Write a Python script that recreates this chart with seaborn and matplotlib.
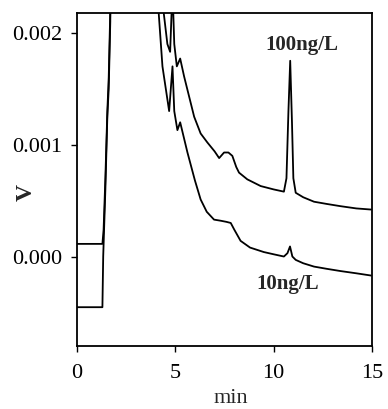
import numpy as np
import pandas as pd
import matplotlib
matplotlib.use("Agg")
import matplotlib.pyplot as plt
import matplotlib.ticker as mticker
import seaborn as sns

# 100 ng/L trace (time in min, signal in V)
t_100 = [0, 1.30, 1.36, 1.45, 1.55, 1.62, 1.70, 1.75, 4.0, 4.40, 4.60, 4.74, 4.86,
         4.95, 5.08, 5.25, 5.45, 5.62, 5.96, 6.29, 6.63, 7.0, 7.23, 7.48, 7.7, 7.9,
         8.1, 8.24, 8.66, 9.34, 10.0, 10.52, 10.65, 10.75, 10.84, 10.93, 11.0,
         11.12, 11.5, 12.05, 12.7, 13.4, 14.2, 14.95]
v_100 = [0.000113, 0.000113, 0.00024, 0.0007, 0.0013, 0.0016, 0.0022, 0.004, 0.004,
         0.0022, 0.0019, 0.00183, 0.0024, 0.0019, 0.0017, 0.00177, 0.00161, 0.00149,
         0.00125, 0.0011, 0.00102, 0.00094, 0.00088, 0.00093, 0.00093, 0.0009,
         0.0008, 0.00075, 0.00069, 0.00063, 0.0006, 0.00058, 0.0007, 0.0013,
         0.00175, 0.0012, 0.0007, 0.00057, 0.00053, 0.00049, 0.00047, 0.00045,
         0.00043, 0.00042]

# 10 ng/L trace
t_10 = [0, 1.30, 1.34, 1.45, 1.55, 1.62, 1.70, 1.75, 3.9, 4.15, 4.35, 4.69, 4.86,
        4.95, 5.11, 5.25, 5.62, 6.0, 6.29, 6.6, 6.97, 7.31, 7.6, 7.82, 8.0, 8.32,
        8.8, 9.5, 10.0, 10.52, 10.7, 10.83, 10.95, 11.12, 11.5, 12.05, 12.7, 13.4,
        14.2, 14.95]
v_10 = [-0.000453, -0.000453, 0.0, 0.0006, 0.00125, 0.0015, 0.0021, 0.004, 0.004,
        0.0022, 0.0017, 0.0013, 0.0017, 0.0013, 0.00113, 0.0012, 0.00093, 0.00068,
        0.00051, 0.0004, 0.00033, 0.00032, 0.00031, 0.0003, 0.00024, 0.00014,
        0.00008, 0.00004, 0.00002, 0.0, 0.00003, 0.00009, 0.0, -0.00003, -0.00006,
        -0.00009, -0.00011, -0.00013, -0.00015, -0.00017]

x_ticks = [0, 5, 10, 15]
y_ticks = [0.000, 0.001, 0.002]

sns.set_style("ticks")
plt.rcParams['font.family'] = ['Liberation Serif', 'DejaVu Serif']

fig = plt.figure(figsize=(3.88, 4.09), dpi=100)
ax = fig.add_axes([0.198, 0.154, 0.761, 0.815])

df100 = pd.DataFrame({"min": t_100, "V": v_100})
df10 = pd.DataFrame({"min": t_10, "V": v_10})
sns.lineplot(data=df100, x="min", y="V", sort=False, color="black", lw=1.3, ax=ax)
sns.lineplot(data=df10, x="min", y="V", sort=False, color="black", lw=1.3, ax=ax)

ax.set_xlim(0, 15)
ax.set_ylim(-0.0008, 0.00218)
ax.set_xticks(x_ticks)
ax.set_yticks(y_ticks)
ax.yaxis.set_major_formatter(mticker.FormatStrFormatter('%.3f'))
ax.tick_params(axis='both', direction='out', length=4.3, width=1, labelsize=16,
               colors='black', pad=6.5)
ax.tick_params(axis='x', pad=8.5)
for s in ax.spines.values():
    s.set_visible(True)
    s.set_linewidth(1.3)
    s.set_color('black')

ax.set_xlabel("min", fontsize=16, va='center')
ax.xaxis.set_label_coords(0.52, -0.158)
ax.set_ylabel("V", fontsize=17, fontweight='bold', va='center')
ax.yaxis.set_label_coords(-0.17, 0.46)

ax.text(11.43, 0.00189, "100ng/L", fontsize=15, fontweight='bold', ha='center', va='center')
ax.text(10.73, -0.00025, "10ng/L", fontsize=15, fontweight='bold', ha='center', va='center')

fig.savefig("out.png", dpi=100)
